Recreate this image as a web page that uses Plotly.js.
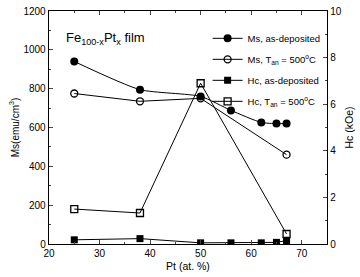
<!DOCTYPE html>
<html><head><meta charset="utf-8">
<script src="https://cdn.plot.ly/plotly-3.0.1.min.js"></script>
<style>body{margin:0;background:#fff}#chart{width:360px;height:277px}</style>
</head><body><div id="chart"></div>
<script>
const msDepX = [25, 38, 50, 56, 62, 65, 67];
const msDepY = [940, 795, 760, 688, 626, 620, 620];
const msAnnX = [25, 38, 50, 67];
const msAnnY = [775, 735, 750, 460];
const hcDepX = [25, 38, 50, 56, 62, 65, 67];
const hcDepY = [0.18, 0.23, 0.05, 0.05, 0.05, 0.07, 0.15];
const hcAnnX = [25, 38, 50, 67];
const hcAnnY = [1.5, 1.33, 6.9, 0.43];
const names = ["Ms, as-deposited", "Ms, T<sub>an</sub> = 500<sup>o</sup>C", "Hc, as-deposited", "Hc, T<sub>an</sub> = 500<sup>o</sup>C"];

const ln = {color:'#000', width:1};
const traces = [
  {x: msDepX, y: msDepY, name: names[0], legendgroup:'a', mode:'lines+markers', line:{color:'#000', width:1, shape:'spline', smoothing:0.6},
   marker:{symbol:'circle', size:8, color:'#000'}},
  {x: msAnnX, y: msAnnY, name: names[1], legendgroup:'b', mode:'lines+markers', line:ln,
   marker:{symbol:'circle-open', size:7, color:'#000', line:{width:1.3}}},
  {x: hcDepX, y: hcDepY, name: names[2], legendgroup:'c', yaxis:'y2', mode:'lines+markers', line:ln,
   marker:{symbol:'square', size:7, color:'#000'}},
  {x: hcAnnX, y: hcAnnY, name: names[3], legendgroup:'d', yaxis:'y2', mode:'lines+markers', line:ln,
   marker:{symbol:'square-open', size:7, color:'#000', line:{width:1.3}}}
];
const fam = 'Liberation Sans, Arial, sans-serif';
const layout = {
  width:360, height:277,
  margin:{l:49, r:33, t:11, b:33},
  paper_bgcolor:'#fff', plot_bgcolor:'#fff',
  font: {family:fam, size:10, color:'#000'},
  showlegend:true,
  legend:{x:0.995, y:0.945, xanchor:'right', yanchor:'top', bgcolor:'rgba(0,0,0,0)',
    traceorder:'grouped', tracegroupgap:2,
    font:{family:fam, size:9.5, color:'#000'}, itemwidth:30},
  xaxis:{range:[20,75], dtick:10, tick0:20, ticks:'inside', ticklen:4, showline:true, linecolor:'#000', linewidth:1.3,
    mirror:'ticks', showgrid:false, zeroline:false,
    minor:{dtick:5, ticks:'inside', ticklen:2},
    title:{text:'Pt (at. %)', font:{size:10.5}, standoff:4}},
  yaxis:{range:[0,1200], dtick:200, ticks:'inside', ticklen:4, showline:true, linecolor:'#000', linewidth:1.3,
    showgrid:false, zeroline:false, minor:{dtick:100, ticks:'inside', ticklen:2},
    title:{text:'Ms(emu/cm<sup>3</sup>)', font:{size:10}, standoff:2}},
  yaxis2:{range:[0,10], dtick:2, overlaying:'y', side:'right', ticks:'inside', ticklen:4, showline:true,
    linecolor:'#000', linewidth:1.3, showgrid:false, zeroline:false, minor:{dtick:1, ticks:'inside', ticklen:2},
    title:{text:'Hc (kOe)', font:{size:10.5}, standoff:4}},
  annotations:[{xref:'x', yref:'y', x:23, y:1060, xanchor:'left', yanchor:'middle', showarrow:false,
    text:'Fe<sub>100-x</sub>Pt<sub>x</sub> film', font:{family:fam, size:13, color:'#000'}}]
};
Plotly.newPlot('chart', traces, layout, {displayModeBar:false, staticPlot:true});
</script></body></html>
